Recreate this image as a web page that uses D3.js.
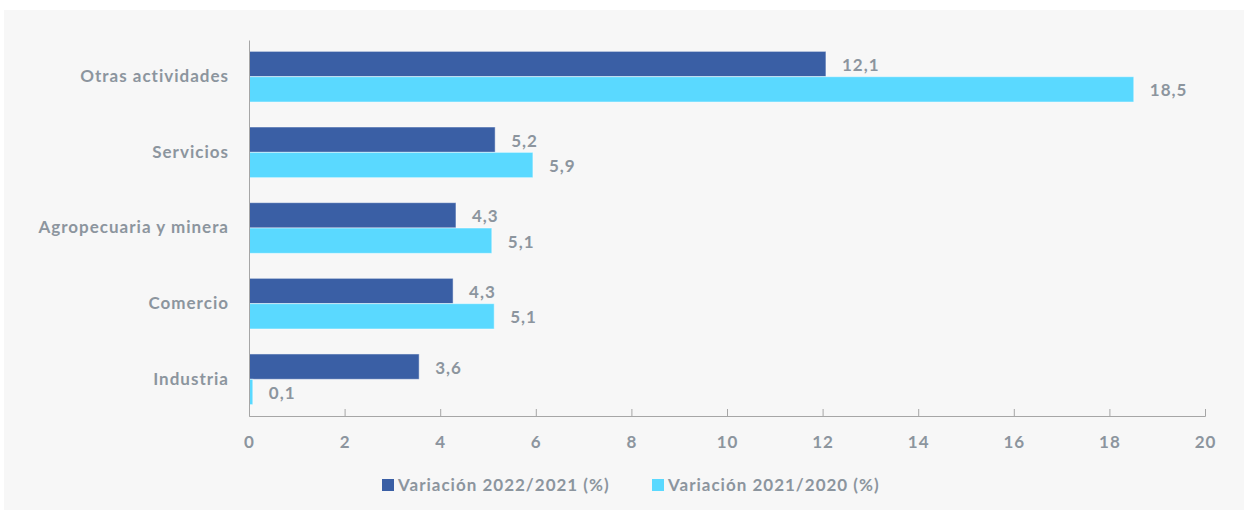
<!DOCTYPE html>
<html>
<head>
<meta charset="utf-8">
<script src="https://cdn.jsdelivr.net/npm/d3@7"></script>
<style>
  body { margin: 0; background: #fff; }
  text { font-family: Lato, "Open Sans", sans-serif; font-weight: 700; fill: #8c959e; letter-spacing: 1px; }
</style>
</head>
<body>
<script>
// sectores, de arriba a abajo
var categories = ['Otras actividades', 'Servicios', 'Agropecuaria y minera', 'Comercio', 'Industria'];
var var2022 = [12.07, 5.15, 4.33, 4.27, 3.56];
var var2021 = [18.51, 5.94, 5.08, 5.13, 0.08];
var seriesNames = ['Variación 2022/2021 (%)', 'Variación 2021/2020 (%)'];
var xTicks = [0, 2, 4, 6, 8, 10, 12, 14, 16, 18, 20];

var colors = ['#3a5fa5', '#5ad9ff'];

var width = 1248;
var height = 514;
var margin = {top: 40, right: 43, bottom: 98, left: 249};

var svg = d3.select('body')
            .append('svg')
            .attr('width', width)
            .attr('height', height);

// fondo gris claro
svg.append('rect')
   .attr('x', 4)
   .attr('y', 10)
   .attr('width', 1240)
   .attr('height', 500)
   .attr('fill', '#f7f7f7');

var x = d3.scaleLinear()
          .domain([0, 20])
          .range([margin.left, width - margin.right]);

var y = d3.scaleBand()
          .domain(categories)
          .range([margin.top, height - margin.bottom])
          .paddingInner(0.33)
          .paddingOuter(0.15);

var sub = d3.scaleBand()
            .domain([0, 1])
            .range([0, y.bandwidth()]);

var rows = categories.map(function(c, i) {
  return {cat: c, vals: [var2022[i], var2021[i]]};
});

var groups = svg.selectAll('g.row')
                .data(rows)
                .enter()
                .append('g')
                .attr('class', 'row')
                .attr('transform', function(d) { return 'translate(0,' + y(d.cat) + ')'; });

groups.selectAll('rect')
      .data(function(d) { return d.vals; })
      .enter()
      .append('rect')
      .attr('x', x(0))
      .attr('y', function(d, i) { return sub(i); })
      .attr('width', function(d) { return x(d) - x(0); })
      .attr('height', sub.bandwidth())
      .attr('fill', function(d, i) { return colors[i]; })
      .attr('stroke', 'rgba(255,255,255,0.5)')
      .attr('stroke-width', 1);

groups.selectAll('text.val')
      .data(function(d) { return d.vals; })
      .enter()
      .append('text')
      .attr('class', 'val')
      .attr('x', function(d) { return x(d) + 16; })
      .attr('y', function(d, i) { return sub(i) + sub.bandwidth() / 2 + 1; })
      .attr('dy', '0.35em')
      .style('font-size', '17px')
      .text(function(d) { return d.toFixed(1).replace('.', ','); });

// eje x
var xAxis = svg.append('g')
               .attr('transform', 'translate(0,' + (height - margin.bottom) + ')')
               .call(d3.axisBottom(x).tickValues(xTicks).tickSize(-7).tickPadding(20).tickSizeOuter(-7));
xAxis.select('.domain').attr('stroke', '#a6a6a6');
xAxis.selectAll('.tick line').attr('stroke', '#a6a6a6');
xAxis.selectAll('.tick text')
     .style('font-size', '17px')
     .attr('fill', null);

// eje y
var yAxis = svg.append('g')
               .attr('transform', 'translate(' + margin.left + ',0)')
               .call(d3.axisLeft(y).tickSize(0).tickPadding(20));
yAxis.select('.domain').attr('stroke', '#a6a6a6');
yAxis.selectAll('.tick text')
     .style('font-size', '17px')
     .attr('fill', null);

// leyenda
var legend = svg.append('g').attr('transform', 'translate(0,485)');
var legX = [382, 652];
seriesNames.forEach(function(name, i) {
  legend.append('rect')
        .attr('x', legX[i])
        .attr('y', -6)
        .attr('width', 12)
        .attr('height', 12)
        .attr('fill', colors[i]);
  legend.append('text')
        .attr('x', legX[i] + 16)
        .attr('y', 0)
        .attr('dy', '0.35em')
        .style('font-size', '17px')
        .text(name);
});
</script>
</body>
</html>
